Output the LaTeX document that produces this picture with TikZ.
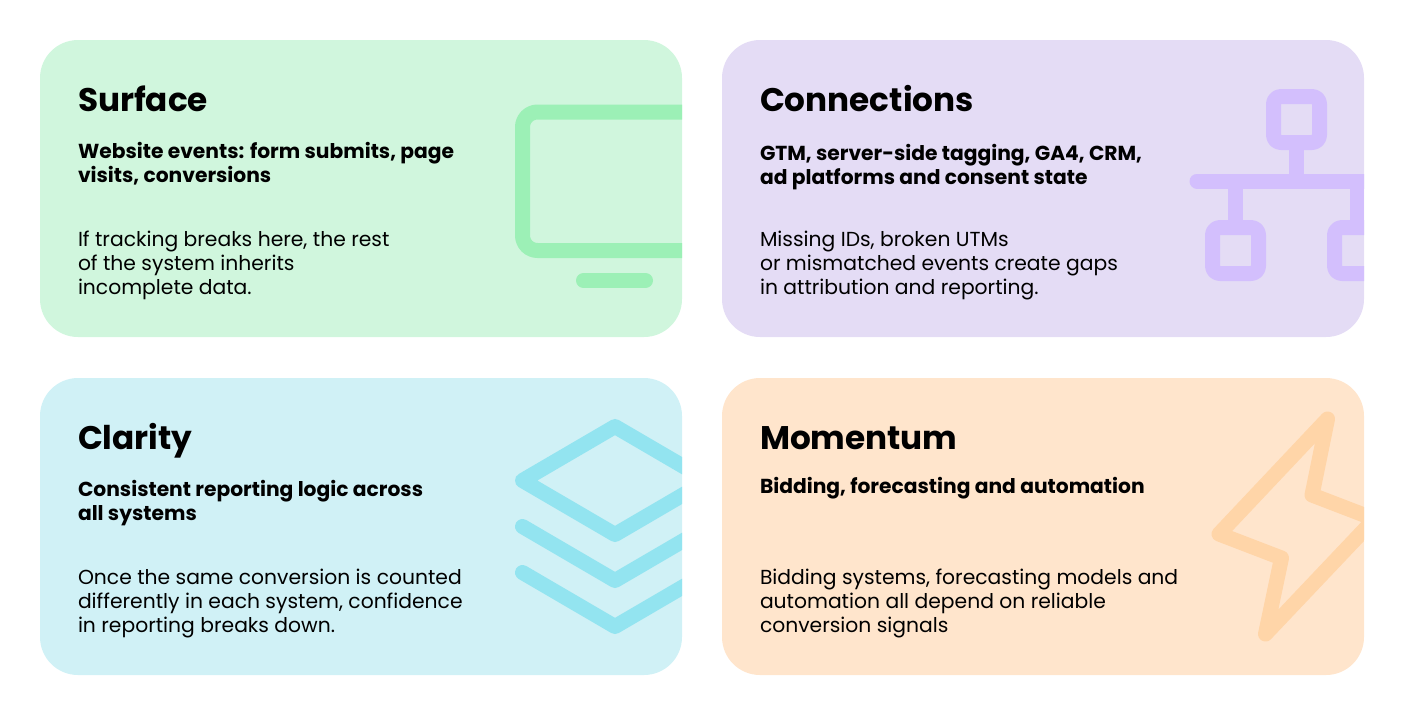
\documentclass[tikz,border=0pt]{standalone}
\usepackage{fontspec}
\setmainfont{Poppins}
\usetikzlibrary{positioning}
\definecolor{greencard}{HTML}{D0F6DD}
\definecolor{greenicon}{HTML}{9CF0B6}
\definecolor{violetcard}{HTML}{E4DCF5}
\definecolor{violeticon}{HTML}{D3BFFD}
\definecolor{bluecard}{HTML}{D0F1F6}
\definecolor{blueicon}{HTML}{93E4F0}
\definecolor{orangecard}{HTML}{FFE5CC}
\definecolor{orangeicon}{HTML}{FFD5A8}
\tikzset{
  card/.style={rectangle,rounded corners=38pt,inner sep=0pt,outer sep=0pt,minimum width=642pt,minimum height=297pt},
  heading/.style={inner sep=0pt,outer sep=0pt,align=left,text height=26pt,text depth=8pt,font=\fontsize{32.7}{38}\selectfont\bfseries},
  lead/.style={inner sep=0pt,outer sep=0pt,align=left,font=\fontsize{20.25}{24}\selectfont\bfseries},
  copy/.style={inner sep=0pt,outer sep=0pt,align=left,font=\fontsize{20.3}{24}\selectfont},
  glyph/.style={line width=15pt,line cap=round,line join=round}
}
\begin{document}
\begin{tikzpicture}[x=1pt,y=-1pt,node distance = 682pt]
\useasboundingbox (0,0) rectangle (1404,716);
\node[card,fill=greencard] (surface) at (361,188.5) {};
\node[card,fill=violetcard] (connections) [right of = surface] {};
\node[card,fill=bluecard] (clarity) at (361,526.5) {};
\node[card,fill=orangecard] (momentum) [right of = clarity] {};
% monitor
\begin{scope}
\clip[rounded corners=38pt] (surface.north west) rectangle (surface.south east);
\draw[glyph,greenicon,rounded corners=15pt] (700,112) -- (522.5,112) -- (522.5,250.5) -- (700,250.5);
\draw[glyph,greenicon] (583.5,280.5) -- (645.5,280.5);
\end{scope}
% network
\begin{scope}
\clip[rounded corners=38pt] (connections.north west) rectangle (connections.south east);
\draw[glyph,violeticon,rounded corners=7.5pt] (1273.5,96.5) rectangle (1319.5,142.5);
\draw[glyph,violeticon,rounded corners=7.5pt] (1212.5,227.5) rectangle (1258.5,273.5);
\draw[glyph,violeticon,rounded corners=7.5pt] (1334.5,227.5) rectangle (1380.5,273.5);
\draw[glyph,violeticon,line cap=butt] (1296.5,150) -- (1296.5,181);
\draw[glyph,violeticon] (1197,181) -- (1380,181);
\draw[glyph,violeticon,line cap=butt] (1235,181) -- (1235,220);
\draw[glyph,violeticon,line cap=butt] (1357.5,181) -- (1357.5,220);
\end{scope}
% layers
\begin{scope}
\clip[rounded corners=38pt] (clarity.north west) rectangle (clarity.south east);
\draw[glyph,blueicon] (522.5,480.5) -- (615,426.5) -- (707.5,480.5) -- (615,534.5) -- cycle;
\draw[glyph,blueicon] (522.5,526.5) -- (615,580.5) -- (707.5,526.5);
\draw[glyph,blueicon] (522.5,572.5) -- (615,626.5) -- (707.5,572.5);
\end{scope}
% bolt
\begin{scope}
\clip[rounded corners=38pt] (momentum.north west) rectangle (momentum.south east);
\draw[glyph,orangeicon] (1327.5,419) -- (1219,534) -- (1281.5,558) -- (1265.5,634) -- (1374.5,519) -- (1312,495) -- cycle;
\end{scope}
% texts
\node[heading] (t1) [below right = 45pt and 38pt of surface.north west] {Surface};
\node[lead] (l1) [below right = 102pt and 38pt of surface.north west] {Website events: form submits, page\\visits, conversions};
\node[copy] (c1) [below right = 191pt and 38pt of surface.north west] {If tracking breaks here, the rest\\of the system inherits\\incomplete data.};
\node[heading] (t2) [below right = 45pt and 38pt of connections.north west] {Connections};
\node[lead] (l2) [below right = 104pt and 38pt of connections.north west] {GTM, server-side tagging, GA4, CRM,\\ad platforms and consent state};
\node[copy] (c2) [below right = 191pt and 38pt of connections.north west] {Missing IDs, broken UTMs\\or mismatched events create gaps\\in attribution and reporting.};
\node[heading] (t3) [below right = 45pt and 38pt of clarity.north west] {Clarity};
\node[lead] (l3) [below right = 102pt and 38pt of clarity.north west] {Consistent reporting logic across\\all systems};
\node[copy] (c3) [below right = 191pt and 38pt of clarity.north west] {Once the same conversion is counted\\differently in each system, confidence\\in reporting breaks down.};
\node[heading] (t4) [below right = 45pt and 38pt of momentum.north west] {Momentum};
\node[lead] (l4) [below right = 99pt and 38pt of momentum.north west] {Bidding, forecasting and automation};
\node[copy] (c4) [below right = 191pt and 38pt of momentum.north west] {Bidding systems, forecasting models and\\automation all depend on reliable\\conversion signals};
\end{tikzpicture}
\end{document}
